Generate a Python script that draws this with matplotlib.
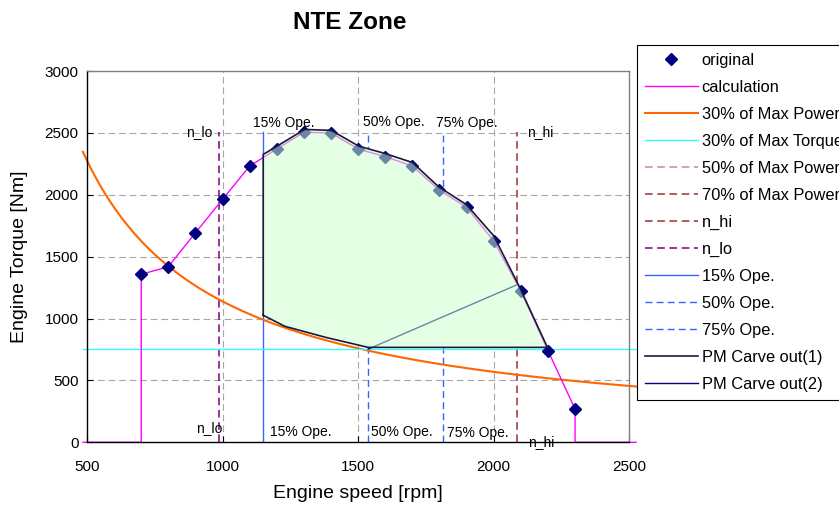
import matplotlib
matplotlib.use("Agg")
import matplotlib.pyplot as plt
import numpy as np
from matplotlib.patches import Polygon

plt.rcParams['font.family'] = ['Liberation Sans', 'DejaVu Sans']

# ---------------- data ----------------
orig_rpm = [700, 800, 900, 1000, 1100, 1200, 1300, 1400, 1500, 1600, 1700,
            1800, 1900, 2000, 2100, 2200, 2300]
orig_torque = [1357, 1419, 1693, 1963, 2232, 2370, 2505, 2499, 2370, 2308,
               2232, 2036, 1899, 1626, 1222, 740, 269]

calc_rpm = [485, 700] + orig_rpm + [2300, 2525]
calc_torque = [0, 0] + orig_torque + [0, 0]

# NTE carve-out polygon (PM Carve out(1))
carve_rpm = [1150, 1150, 1303, 1401, 1502, 1598, 1700, 1797, 1899, 2000,
             2095, 2198, 1537, 1380, 1230, 1150]
carve_torque = [1026, 2326, 2528, 2520, 2393, 2334, 2261, 2064, 1921, 1668,
                1255, 767, 767, 848, 937, 1026]

# PM Carve out(2)
carve2_rpm = [1537, 2084]
carve2_torque = [753, 1271]

# speed markers
n_lo = 987
n_hi = 2084
ope15 = 1150
ope50 = 1537
ope75 = 1812

curve_rpm = np.linspace(485, 2525, 300)
p30_const = 0.3 * max(r * t for r, t in zip(orig_rpm, orig_torque))
power30_torque = p30_const / curve_rpm
torque30 = 0.3 * max(orig_torque)
line_top = max(orig_torque)

label_texts = ['n_lo', '15% Ope.', '50% Ope.', '75% Ope.', 'n_hi']
top_label_x = [964, 1111, 1517, 1788, 2124]
top_label_y = [2506, 2582, 2590, 2577, 2508]
top_label_ha = ['right', 'left', 'left', 'left', 'left']
bot_label_x = [1001, 1174, 1549, 1827, 2128]
bot_label_y = [116, 83, 83, 75, 0]
bot_label_ha = ['right', 'left', 'left', 'left', 'left']

# ---------------- figure ----------------
W, H = 839, 511
fig = plt.figure(figsize=(W / 100, H / 100), dpi=100)
ax = fig.add_axes([87 / W, 1 - 442.3 / H, (629.3 - 87) / W, (442.3 - 71) / H])
ax.set_xlim(500, 2500)
ax.set_ylim(0, 3000)
ax.set_xticks([500, 1000, 1500, 2000, 2500])
ax.set_yticks([0, 500, 1000, 1500, 2000, 2500, 3000])
ax.tick_params(direction='in', length=4, width=0.8, labelsize=11, pad=6,
               colors='black')
ax.tick_params(axis='x', pad=13)
for s in ['top', 'right']:
    ax.spines[s].set_color('#808080')
for s in ['left', 'bottom']:
    ax.spines[s].set_color('black')
for s in ax.spines.values():
    s.set_linewidth(1.0)

# grid
for yv in [500, 1000, 1500, 2000, 2500]:
    ax.axhline(yv, color='#A6A6A6', lw=0.8, dashes=(6, 3.5), zorder=0.5)
for xv in [1000, 1500, 2000]:
    ax.axvline(xv, color='#A6A6A6', lw=0.8, dashes=(6, 3.5), zorder=0.5)

# vertical speed lines
ax.plot([n_hi, n_hi], [0, line_top], color='#993333', lw=1.1, dashes=(5, 3),
        zorder=1, label='n_hi')
ax.plot([n_lo, n_lo], [0, line_top], color='#800080', lw=1.1, dashes=(5, 3),
        zorder=1, label='n_lo')
ax.plot([ope15, ope15], [0, line_top], color='#3366FF', lw=1.0, zorder=1,
        label='15% Ope.')
ax.plot([ope50, ope50], [0, line_top], color='#3366FF', lw=1.0, dashes=(5, 3),
        zorder=1, label='50% Ope.')
ax.plot([ope75, ope75], [0, line_top], color='#3366FF', lw=1.0, dashes=(5, 3),
        zorder=1, label='75% Ope.')

# opaque under-layer of the zone (hides grid and dashed lines)
ax.add_patch(Polygon(np.column_stack([carve_rpm, carve_torque]), closed=True,
                     facecolor='white', edgecolor='none', zorder=1.5))

# curves
ax.plot(curve_rpm, power30_torque, color='#FF6600', lw=1.5, zorder=2,
        clip_on=False, label='30% of Max Power')
ax.plot([485, 2525], [torque30, torque30], color='#33FFFF', lw=1.0, zorder=2,
        clip_on=False, label='30% of Max Torque')
ax.plot([], [], color='#CC8899', lw=1.1, dashes=(5, 3), label='50% of Max Power')
ax.plot([], [], color='#993333', lw=1.1, dashes=(5, 3), label='70% of Max Power')
ax.plot(calc_rpm, calc_torque, color='#FF00FF', lw=1.0, zorder=2.2,
        clip_on=False, label='calculation')
ax.plot(orig_rpm, orig_torque, linestyle='none', marker='D', ms=6,
        color='#000080', zorder=3, clip_on=False, label='original')
ax.plot(carve2_rpm, carve2_torque, color='#000080', lw=1.0, zorder=3,
        label='PM Carve out(2)')

# translucent zone fill
ax.add_patch(Polygon(np.column_stack([carve_rpm, carve_torque]), closed=True,
                     facecolor='#CCFFCC', alpha=0.53, edgecolor='none', zorder=4))
ax.plot(carve_rpm, carve_torque, color='#1A1A3A', lw=1.2, zorder=5,
        label='PM Carve out(1)')

# labels
for t, x, y, ha in zip(label_texts, top_label_x, top_label_y, top_label_ha):
    ax.text(x, y, t, ha=ha, va='center', fontsize=10, zorder=6)
for t, x, y, ha in zip(label_texts, bot_label_x, bot_label_y, bot_label_ha):
    ax.text(x, y, t, ha=ha, va='center', fontsize=10, zorder=6)

ax.set_xlabel('Engine speed [rpm]', fontsize=14, labelpad=8)
ax.set_ylabel('Engine Torque [Nm]', fontsize=14, labelpad=12)
fig.text(350 / W, 1 - 22.7 / H, 'NTE Zone', ha='center', va='center',
         fontsize=17.5, fontweight='bold')

# legend
order = ['original', 'calculation', '30% of Max Power', '30% of Max Torque',
         '50% of Max Power', '70% of Max Power', 'n_hi', 'n_lo', '15% Ope.',
         '50% Ope.', '75% Ope.', 'PM Carve out(1)', 'PM Carve out(2)']
handles, labels = ax.get_legend_handles_labels()
hmap = dict(zip(labels, handles))
leg = fig.legend([hmap[k] for k in order], order, loc='upper left',
                 bbox_to_anchor=(637 / W, 1 - 45 / H),
                 bbox_transform=fig.transFigure, fontsize=11.8, numpoints=1,
                 handlelength=3.2, handletextpad=0.25, labelspacing=0.73,
                 borderpad=0.5, fancybox=False, framealpha=1,
                 edgecolor='black', borderaxespad=0)
leg.get_frame().set_linewidth(0.8)

fig.savefig('out.png', dpi=100)
